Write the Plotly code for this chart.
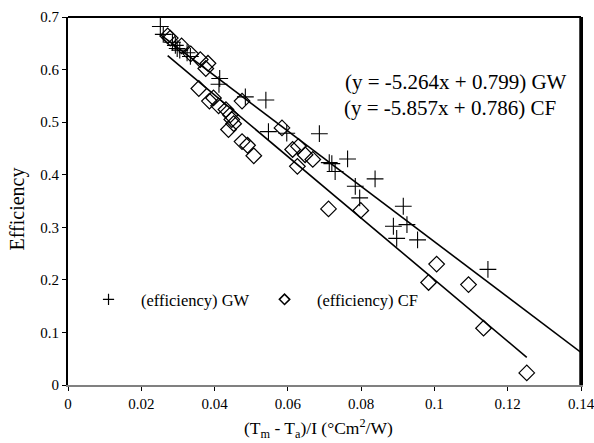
import plotly.graph_objects as go

# GW points (+)
gw_x = [0.0252, 0.0260, 0.0285, 0.0293, 0.0298, 0.0305, 0.0325, 0.0334, 0.0414, 0.0412,
        0.0484, 0.0540, 0.0547, 0.0597, 0.0686, 0.0713, 0.0720, 0.0729, 0.0763, 0.0784,
        0.0796, 0.0838, 0.0888, 0.0897, 0.0915, 0.0925, 0.0954, 0.1146]
gw_y = [0.682, 0.667, 0.652, 0.646, 0.640, 0.637, 0.632, 0.625, 0.583, 0.572,
        0.548, 0.542, 0.482, 0.479, 0.478, 0.423, 0.421, 0.406, 0.430, 0.378,
        0.356, 0.392, 0.302, 0.279, 0.340, 0.305, 0.276, 0.220]

# CF points (diamond)
cf_x = [0.0272, 0.0279, 0.0310, 0.0335, 0.0361, 0.0382, 0.0376, 0.0357, 0.0386, 0.0397,
        0.0411, 0.0431, 0.0443, 0.0447, 0.0452, 0.0438, 0.0475, 0.0475, 0.0490, 0.0507,
        0.0584, 0.0613, 0.0629, 0.0647, 0.0668, 0.0626, 0.0711, 0.0799, 0.0984, 0.1006,
        0.1093, 0.1134, 0.1252]
cf_y = [0.664, 0.660, 0.645, 0.630, 0.619, 0.612, 0.602, 0.564, 0.540, 0.546,
        0.531, 0.524, 0.514, 0.505, 0.497, 0.486, 0.540, 0.463, 0.456, 0.436,
        0.489, 0.448, 0.454, 0.438, 0.429, 0.416, 0.335, 0.332, 0.195, 0.230,
        0.191, 0.108, 0.023]

# linear fits shown on the chart
gw_fit = (-5.264, 0.799)
cf_fit = (-5.857, 0.786)
gw_line_x = [0.0252, 0.14]
cf_line_x = [0.0272, 0.1252]

x_ticks = [0, 0.02, 0.04, 0.06, 0.08, 0.1, 0.12, 0.14]
x_labels = ['0', '0.02', '0.04', '0.06', '0.08', '0.1', '0.12', '0.14']
y_ticks = [0, 0.1, 0.2, 0.3, 0.4, 0.5, 0.6, 0.7]
y_labels = ['0', '0.1', '0.2', '0.3', '0.4', '0.5', '0.6', '0.7']

font = 'Liberation Serif, Times New Roman, serif'

fig = go.Figure()

fig.add_trace(go.Scatter(
    x=gw_line_x, y=[gw_fit[0] * v + gw_fit[1] for v in gw_line_x],
    mode='lines', line=dict(color='black', width=1.6), showlegend=False,
    hoverinfo='skip'))
fig.add_trace(go.Scatter(
    x=cf_line_x, y=[cf_fit[0] * v + cf_fit[1] for v in cf_line_x],
    mode='lines', line=dict(color='black', width=1.6), showlegend=False,
    hoverinfo='skip'))

fig.add_trace(go.Scatter(
    x=gw_x, y=gw_y, mode='markers', name='GW', showlegend=False,
    marker=dict(symbol='cross-thin', size=12, line=dict(color='black', width=1.1),
                color='black')))
fig.add_trace(go.Scatter(
    x=cf_x, y=cf_y, mode='markers', name='CF', showlegend=False,
    marker=dict(symbol='diamond-open', size=12, line=dict(color='black', width=1.2),
                color='black')))

# legend-only entries with the small symbols of the original legend
fig.add_trace(go.Scatter(
    x=[None], y=[None], mode='markers', name='&nbsp;&nbsp;&nbsp;(efficiency) GW',
    marker=dict(symbol='cross-thin', size=8, line=dict(color='black', width=1.2))))
fig.add_trace(go.Scatter(
    x=[None], y=[None], mode='markers', name='&nbsp;&nbsp;&nbsp;(efficiency) CF',
    marker=dict(symbol='diamond-open', size=8, line=dict(color='black', width=1.5),
                color='black')))

fig.add_annotation(x=0.0751, y=0.577, xref='x', yref='y', xanchor='left', yanchor='middle',
                   text='(y = -5.264x + 0.799) GW', showarrow=False,
                   font=dict(family=font, size=21, color='black'))
fig.add_annotation(x=0.0749, y=0.527, xref='x', yref='y', xanchor='left', yanchor='middle',
                   text='(y = -5.857x + 0.786) CF', showarrow=False,
                   font=dict(family=font, size=21, color='black'))

# axis titles
fig.add_annotation(x=0.488, y=-0.118, xref='paper', yref='paper', xanchor='center',
                   yanchor='middle', showarrow=False,
                   text='(T<sub>m</sub> - T<sub>a</sub>)/I (°Cm<sup>2</sup>/W)',
                   font=dict(family=font, size=17.5, color='black'))
fig.add_annotation(x=-0.098, y=0.479, xref='paper', yref='paper', xanchor='center',
                   yanchor='middle', showarrow=False, textangle=-90,
                   text='Efficiency', font=dict(family=font, size=20, color='black'))

# top and right frame lines
fig.add_shape(type='line', xref='paper', yref='paper', x0=0, x1=1, y0=1, y1=1,
              line=dict(color='black', width=2))
fig.add_shape(type='line', xref='x', yref='paper', x0=0.1398, x1=0.1398, y0=0, y1=1,
              line=dict(color='black', width=2))

fig.update_layout(
    width=594, height=443,
    margin=dict(l=68, r=13, t=17, b=58),
    paper_bgcolor='white', plot_bgcolor='white',
    font=dict(family=font, size=15, color='black'),
    legend=dict(orientation='h', x=0.04, y=0.232, xanchor='left', yanchor='middle',
                bgcolor='rgba(0,0,0,0)', font=dict(family=font, size=16.5),
                entrywidth=131, itemsizing='trace'),
    xaxis=dict(range=[0, 0.14], tickvals=x_ticks, ticktext=x_labels, automargin=False,
               ticklabeloverflow='allow',
               showgrid=False, zeroline=False, ticks='outside', ticklen=4,
               tickcolor='black', showline=True, linecolor='#808080', linewidth=2),
    yaxis=dict(range=[0, 0.7], tickvals=y_ticks, ticktext=y_labels, automargin=False,
               showgrid=False, zeroline=False, ticks='outside', ticklen=4,
               tickcolor='black', showline=True, linecolor='black', linewidth=2,
               mirror=True),
)

fig.write_html('out.html', config={'displayModeBar': False},
               post_script="document.body.style.margin='0';"
                           "document.body.style.overflow='hidden';"
                           "document.documentElement.style.overflow='hidden';")
